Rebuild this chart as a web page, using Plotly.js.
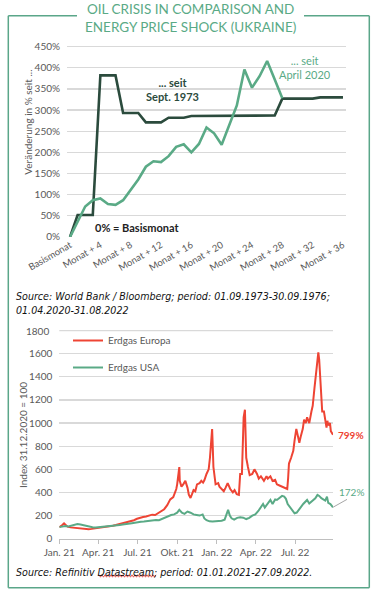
<!DOCTYPE html>
<html><head><meta charset="utf-8">
<script src="https://cdn.plot.ly/plotly-3.0.1.min.js"></script>
<style>html,body{margin:0;padding:0;background:#fff;}#chart{width:380px;height:596px;}</style>
</head><body><div id="chart"></div>
<script>
// ---------- Chart 1: oil crisis comparison ----------
const months = ["Basismonat","Monat + 1","Monat + 2","Monat + 3","Monat + 4","Monat + 5","Monat + 6","Monat + 7","Monat + 8","Monat + 9","Monat + 10","Monat + 11","Monat + 12","Monat + 13","Monat + 14","Monat + 15","Monat + 16","Monat + 17","Monat + 18","Monat + 19","Monat + 20","Monat + 21","Monat + 22","Monat + 23","Monat + 24","Monat + 25","Monat + 26","Monat + 27","Monat + 28","Monat + 29","Monat + 30","Monat + 31","Monat + 32","Monat + 33","Monat + 34","Monat + 35","Monat + 36"];
const monthTicks = ["Basismonat","Monat + 4","Monat + 8","Monat + 12","Monat + 16","Monat + 20","Monat + 24","Monat + 28","Monat + 32","Monat + 36"];
const since1973 = [0,52,52,52,382,382,382,293,293,293,271,271,271,282,282,282,286,286,286,286,286,286,286,286,287,287,287,287,327,327,327,327,327,330,330,330,330];
const since2020 = [0,37,72,87,91,78,76,87,112,136,166,179,177,191,213,219,200,220,259,245,218,266,311,396,353,380,416,372,328];
const pctTicks = [0,50,100,150,200,250,300,350,400,450];
const pctTickText = ["0%","50%","100%","150%","200%","250%","300%","350%","400%","450%"];

// ---------- Chart 2: natural gas index ----------
const europeDates = ["2021-01-01","2021-01-05","2021-01-08","2021-01-12","2021-01-15","2021-01-20","2021-01-27","2021-02-03","2021-02-10","2021-02-17","2021-02-24","2021-03-03","2021-03-10","2021-03-17","2021-03-24","2021-03-31","2021-04-07","2021-04-14","2021-04-21","2021-04-28","2021-05-05","2021-05-12","2021-05-19","2021-05-26","2021-06-02","2021-06-09","2021-06-16","2021-06-23","2021-06-30","2021-07-07","2021-07-14","2021-07-21","2021-07-28","2021-08-04","2021-08-11","2021-08-18","2021-08-25","2021-09-01","2021-09-08","2021-09-15","2021-09-22","2021-09-29","2021-10-01","2021-10-05","2021-10-06","2021-10-07","2021-10-11","2021-10-15","2021-10-20","2021-10-25","2021-10-28","2021-11-01","2021-11-04","2021-11-08","2021-11-12","2021-11-16","2021-11-22","2021-11-26","2021-11-30","2021-12-03","2021-12-08","2021-12-13","2021-12-16","2021-12-20","2021-12-21","2021-12-22","2021-12-24","2021-12-29","2022-01-04","2022-01-07","2022-01-12","2022-01-17","2022-01-21","2022-01-26","2022-02-01","2022-02-07","2022-02-11","2022-02-16","2022-02-21","2022-02-24","2022-02-28","2022-03-02","2022-03-04","2022-03-07","2022-03-08","2022-03-10","2022-03-14","2022-03-18","2022-03-24","2022-03-29","2022-04-04","2022-04-08","2022-04-13","2022-04-20","2022-04-26","2022-04-29","2022-05-05","2022-05-10","2022-05-16","2022-05-20","2022-05-26","2022-06-01","2022-06-07","2022-06-13","2022-06-15","2022-06-17","2022-06-22","2022-06-27","2022-06-30","2022-07-04","2022-07-07","2022-07-11","2022-07-14","2022-07-19","2022-07-22","2022-07-26","2022-07-29","2022-08-03","2022-08-08","2022-08-11","2022-08-15","2022-08-18","2022-08-22","2022-08-24","2022-08-26","2022-08-29","2022-08-31","2022-09-02","2022-09-06","2022-09-08","2022-09-12","2022-09-14","2022-09-16","2022-09-20","2022-09-22","2022-09-27"];
const europeVals = [100,108,118,132,120,104,98,95,92,86,82,80,82,85,88,93,96,100,104,108,112,118,125,130,135,140,148,160,172,182,188,192,200,208,205,220,240,255,290,340,360,430,470,560,619,500,450,470,500,440,380,352,380,420,410,470,480,500,485,505,560,600,700,880,948,850,620,470,480,450,430,410,440,480,430,400,420,385,379,560,560,900,1050,1115,1000,700,620,550,560,600,560,520,540,500,540,520,540,500,510,470,460,450,440,430,520,650,700,760,850,950,900,830,880,950,1030,1000,1050,1000,1100,1150,1300,1400,1500,1612,1550,1320,1150,1100,1100,1050,960,1020,980,1000,930,899];
const usaDates = ["2021-01-01","2021-01-08","2021-01-15","2021-01-22","2021-01-29","2021-02-05","2021-02-12","2021-02-19","2021-02-26","2021-03-05","2021-03-12","2021-03-19","2021-03-26","2021-04-02","2021-04-09","2021-04-16","2021-04-23","2021-04-30","2021-05-07","2021-05-14","2021-05-21","2021-05-28","2021-06-04","2021-06-11","2021-06-18","2021-06-25","2021-07-02","2021-07-09","2021-07-16","2021-07-23","2021-07-30","2021-08-06","2021-08-13","2021-08-20","2021-08-27","2021-09-03","2021-09-10","2021-09-17","2021-09-24","2021-10-01","2021-10-06","2021-10-12","2021-10-18","2021-10-25","2021-11-01","2021-11-08","2021-11-15","2021-11-22","2021-11-29","2021-12-03","2021-12-08","2021-12-15","2021-12-22","2021-12-29","2022-01-05","2022-01-12","2022-01-19","2022-01-27","2022-01-31","2022-02-04","2022-02-10","2022-02-17","2022-02-24","2022-03-03","2022-03-10","2022-03-17","2022-03-24","2022-03-31","2022-04-07","2022-04-13","2022-04-18","2022-04-22","2022-04-28","2022-05-05","2022-05-10","2022-05-16","2022-05-20","2022-05-26","2022-06-01","2022-06-06","2022-06-10","2022-06-14","2022-06-20","2022-06-24","2022-06-30","2022-07-05","2022-07-11","2022-07-15","2022-07-20","2022-07-25","2022-07-29","2022-08-03","2022-08-08","2022-08-12","2022-08-17","2022-08-22","2022-08-26","2022-08-31","2022-09-06","2022-09-09","2022-09-13","2022-09-16","2022-09-21","2022-09-27"];
const usaVals = [100,104,110,106,112,118,127,122,115,108,104,100,96,98,100,104,108,112,114,116,118,122,128,132,134,138,144,146,148,152,156,160,162,160,172,185,192,205,210,225,249,225,215,235,225,210,205,200,210,175,160,150,148,150,158,155,165,249,200,176,165,180,185,182,170,180,200,210,240,280,300,270,300,335,300,340,335,355,370,364,345,300,270,240,220,226,250,275,300,320,335,305,320,340,350,379,370,350,335,330,364,310,300,272];
const indexTicks = [0,200,400,600,800,1000,1200,1400,1600,1800];

const monthTickText = ["Jan. 21","Apr. 21","Jul. 21","Okt. 21","Jan. 22","Apr. 22","Jul. 22"];
const monthTickDates = ["2021-01-01","2021-04-01","2021-07-01","2021-10-01","2022-01-01","2022-04-01","2022-07-01"];

// ---------- styling ----------
const W = 380, H = 596;
const fx = p => p / W, fy = p => 1 - p / H;
const DARK = "#2b4b3d", GREEN = "#5aaa86", RED = "#ee4434", FRAME = "#5aa689", GRID = "#d9d9d9", TXT = "#595959";
const FONT = "Lato, 'Open Sans', sans-serif";
const SRCFONT = "'Liberation Sans Narrow', 'DejaVu Sans Condensed', sans-serif";

const lastEu = europeVals[europeVals.length - 1], lastUs = usaVals[usaVals.length - 1];
const lastEuDate = europeDates[europeDates.length - 1], lastUsDate = usaDates[usaDates.length - 1];

const traces = [
  {x: months.slice(0, since1973.length), y: since1973, type: "scatter", mode: "lines", line: {color: DARK, width: 2.6}, xaxis: "x", yaxis: "y", showlegend: false, hoverinfo: "skip"},
  {x: months.slice(0, since2020.length), y: since2020, type: "scatter", mode: "lines", line: {color: GREEN, width: 2.6}, xaxis: "x", yaxis: "y", showlegend: false, hoverinfo: "skip"},
  {x: europeDates, y: europeVals, name: "Erdgas Europa", type: "scatter", mode: "lines", line: {color: RED, width: 2}, xaxis: "x2", yaxis: "y2", legendgroup: "a"},
  {x: usaDates, y: usaVals, name: "Erdgas USA", type: "scatter", mode: "lines", line: {color: GREEN, width: 2}, xaxis: "x2", yaxis: "y2", legendgroup: "b"}
];

// spell-check squiggle under "Datastream" (decoration of the source line)
let squiggle = "";
for (let i = 0, px = 99; px <= 156; i++, px += 1.5) {
  const py = (i % 2 === 0) ? 574.8 : 577.2;
  squiggle += (i === 0 ? "M" : " L") + fx(px).toFixed(5) + "," + fy(py).toFixed(5);
}

const y2Top = 1830, y2PxPerUnit = (538.7 - 330.6) / 1800;
const y2DomTopPx = 538.7 - y2Top * y2PxPerUnit;
const y1Top = 460, y1PxPerUnit = (237 - 46.6) / 450;
const y1DomTopPx = 237 - y1Top * y1PxPerUnit;

// the top index tick (1800) is drawn explicitly on the y2 scale (label + grid line)
const topIndexTick = indexTicks[indexTicks.length - 1];
const lowerIndexTicks = indexTicks.slice(0, -1);

const layout = {
  width: W, height: H,
  margin: {l: 0, r: 0, t: 0, b: 0},
  paper_bgcolor: "#fff", plot_bgcolor: "rgba(0,0,0,0)",
  font: {family: FONT, color: TXT, size: 10},
  showlegend: true,
  legend: {x: fx(68), y: fy(326), xanchor: "left", yanchor: "top", bgcolor: "rgba(0,0,0,0)", font: {size: 10, color: TXT}, tracegroupgap: 8, itemwidth: 30, traceorder: "grouped"},
  xaxis: {type: "category", categoryarray: months, categoryorder: "array", range: [-0.4, 36.4], domain: [fx(67), fx(346)], anchor: "y",
          showgrid: false, zeroline: false, showline: false, ticks: "", tickvals: monthTicks, tickangle: -30, tickfont: {size: 9.5, color: TXT}, fixedrange: true},
  yaxis: {range: [0, y1Top], tickvals: pctTicks, ticktext: pctTickText, domain: [fy(237), fy(y1DomTopPx)], anchor: "x", gridcolor: GRID, gridwidth: 1.3,
          zeroline: false, showline: false, ticklabelstandoff: 6, tickfont: {size: 10, color: TXT}, fixedrange: true},
  xaxis2: {type: "date", range: ["2021-01-01", "2022-09-27"], domain: [fx(59.3), fx(333)], anchor: "y2",
           tickvals: monthTickDates, ticktext: monthTickText, ticks: "outside", ticklen: 4, tickcolor: "#bfbfbf",
           showgrid: false, showline: true, linecolor: "#bfbfbf", linewidth: 1, zeroline: false, tickfont: {size: 10, color: TXT}, fixedrange: true},
  yaxis2: {range: [0, y2Top], tickvals: lowerIndexTicks, ticktext: lowerIndexTicks.map(String), domain: [fy(538.7), fy(y2DomTopPx)], anchor: "x2", gridcolor: GRID, gridwidth: 1.3,
           zeroline: false, showline: false, ticklabelstandoff: 6, tickfont: {size: 10, color: TXT}, fixedrange: true},
  shapes: [
    {type: "line", xref: "x2 domain", yref: "y2", x0: 0, x1: 1, y0: topIndexTick, y1: topIndexTick, layer: "below", line: {color: GRID, width: 1.3}},
    {type: "line", xref: "paper", yref: "paper", x0: fx(8.3), x1: fx(77), y0: fy(15.7), y1: fy(15.7), line: {color: FRAME, width: 1.5}},
    {type: "line", xref: "paper", yref: "paper", x0: fx(304), x1: fx(369.3), y0: fy(15.7), y1: fy(15.7), line: {color: FRAME, width: 1.5}},
    {type: "line", xref: "paper", yref: "paper", x0: fx(8.3), x1: fx(8.3), y0: fy(15.7), y1: fy(587.7), line: {color: FRAME, width: 1.5}},
    {type: "line", xref: "paper", yref: "paper", x0: fx(369.3), x1: fx(369.3), y0: fy(15.7), y1: fy(587.7), line: {color: FRAME, width: 1.5}},
    {type: "line", xref: "paper", yref: "paper", x0: fx(8.3), x1: fx(369.3), y0: fy(587.7), y1: fy(587.7), line: {color: FRAME, width: 1.5}},
    {type: "path", xref: "paper", yref: "paper", path: squiggle, line: {color: "#e0302a", width: 0.8}}
  ],
  annotations: [
    {text: String(topIndexTick), xref: "x2 domain", yref: "y2", x: 0, y: topIndexTick, xanchor: "right", yanchor: "middle", xshift: -8, showarrow: false, font: {size: 10, color: TXT}},
    {text: "OIL CRISIS IN COMPARISON AND<br>ENERGY PRICE SHOCK (UKRAINE)", xref: "paper", yref: "paper", x: fx(190), y: fy(17.5), xanchor: "center", yanchor: "middle",
     showarrow: false, font: {family: FONT, size: 13.5, color: GREEN}},
    {text: "Veränderung in % seit ...", xref: "paper", yref: "paper", x: fx(27.7), y: fy(122), textangle: -90, xanchor: "center", yanchor: "middle", showarrow: false, font: {size: 10, color: TXT}},
    {text: "<b>... seit<br>Sept. 1973</b>", xref: "paper", yref: "paper", x: fx(172), y: fy(89), xanchor: "center", yanchor: "middle", showarrow: false, font: {size: 11, color: DARK}},
    {text: "... seit<br>April 2020", xref: "paper", yref: "paper", x: fx(305), y: fy(67), xanchor: "center", yanchor: "middle", showarrow: false, font: {size: 11, color: GREEN}},
    {text: "<b>0% = Basismonat</b>", xref: "paper", yref: "paper", x: fx(137), y: fy(227), xanchor: "center", yanchor: "middle", showarrow: false, font: {size: 11, color: "#222"}},
    {text: "<i>Source: World Bank / Bloomberg; period: 01.09.1973-30.09.1976;<br>01.04.2020-31.08.2022</i>", xref: "paper", yref: "paper", x: fx(14), y: fy(303), xanchor: "left", yanchor: "middle", align: "left", showarrow: false,
     font: {family: SRCFONT, size: 10.6, color: "#111"}},
    {text: "Index 31.12.2020 = 100", xref: "paper", yref: "paper", x: fx(23), y: fy(435), textangle: -90, xanchor: "center", yanchor: "middle", showarrow: false, font: {size: 10, color: TXT}},
    {text: "<b>" + (lastEu - 100) + "%</b>", xref: "x2", yref: "y2", x: lastEuDate, y: lastEu, xanchor: "left", yanchor: "middle", xshift: 3, showarrow: false, font: {size: 10, color: RED}},
    {text: " ", xref: "x2", yref: "y2", x: lastUsDate, y: lastUs, showarrow: true, arrowhead: 0, arrowwidth: 1, arrowcolor: "#a6a6a6", ax: 16, ay: -9, standoff: 0, startstandoff: 0, font: {size: 2}},
    {text: (lastUs - 100) + "%", xref: "x2", yref: "y2", x: lastUsDate, y: lastUs, xanchor: "left", yanchor: "middle", xshift: 4, yshift: 15, showarrow: false, font: {size: 10, color: GREEN}},
    {text: "<i>Source: Refinitiv Datastream; period: 01.01.2021-27.09.2022.</i>", xref: "paper", yref: "paper", x: fx(14), y: fy(572), xanchor: "left", yanchor: "middle", align: "left", showarrow: false,
     font: {family: SRCFONT, size: 10.6, color: "#111"}}
  ]
};

Plotly.newPlot("chart", traces, layout, {staticPlot: true, displayModeBar: false});
</script></body></html>
